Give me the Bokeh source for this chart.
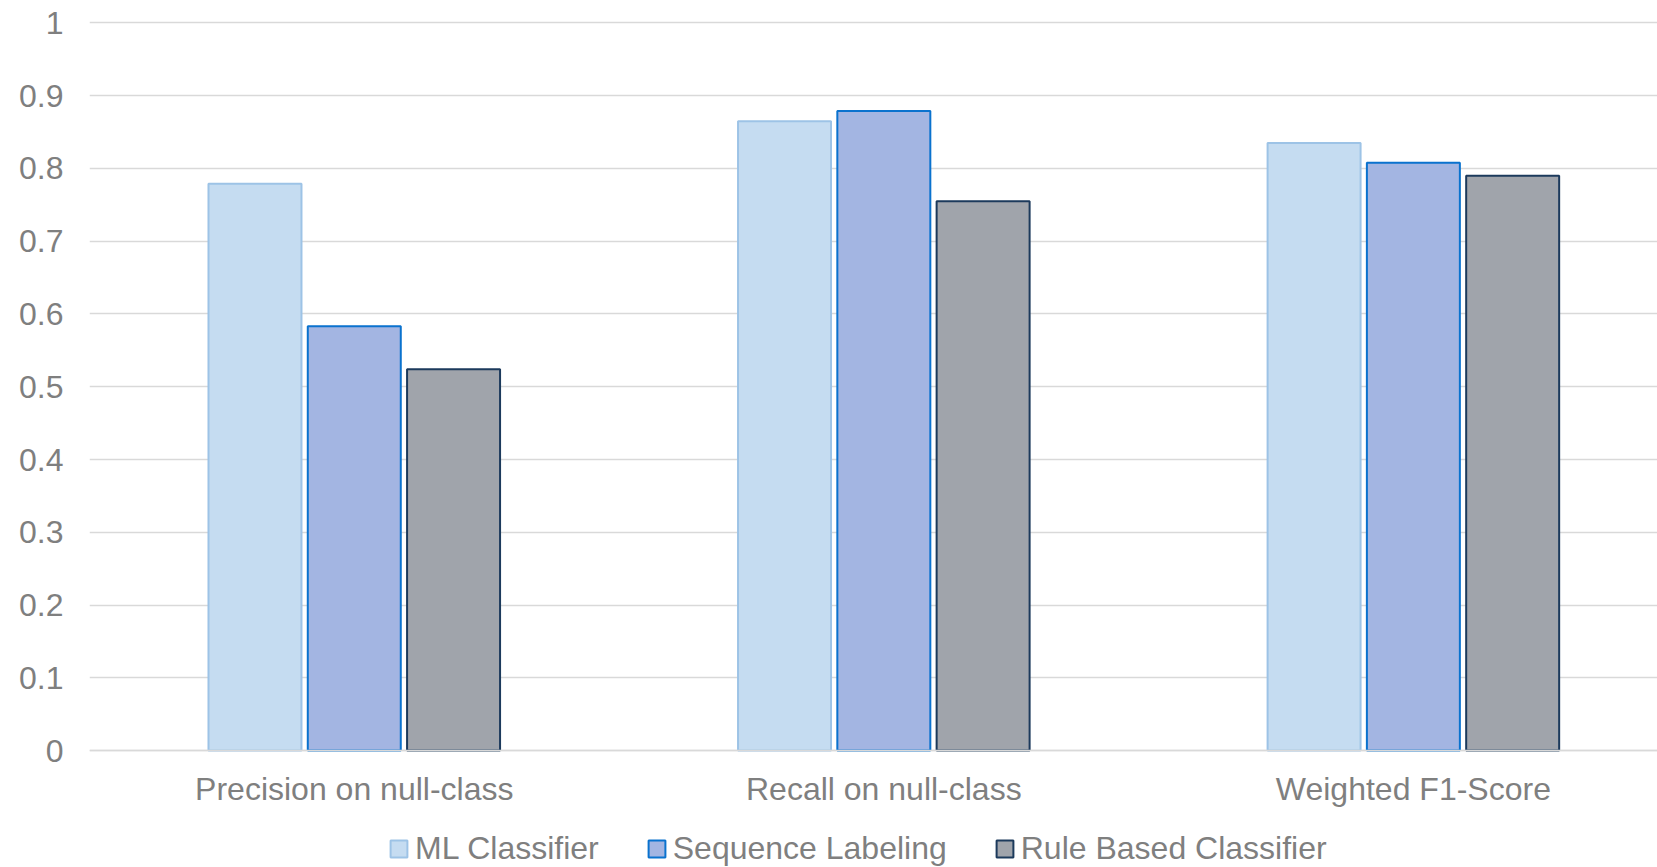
from bokeh.plotting import figure
from bokeh.models import ColumnDataSource, Range1d, FixedTicker, Legend, LegendItem, LinearAxis
from bokeh.transform import dodge
from bokeh.embed import file_html
from bokeh.resources import INLINE

categories = ["Precision on null-class", "Recall on null-class", "Weighted F1-Score"]
category_x = [0.5, 1.5, 2.5]
series_names = ["ML Classifier", "Sequence Labeling", "Rule Based Classifier"]
ml_classifier = [0.779, 0.865, 0.835]
sequence_labeling = [0.583, 0.879, 0.808]
rule_based = [0.524, 0.755, 0.790]
y_ticks = [0, 0.1, 0.2, 0.3, 0.4, 0.5, 0.6, 0.7, 0.8, 0.9, 1.0]
y_tick_labels = ["0", "0.1", "0.2", "0.3", "0.4", "0.5", "0.6", "0.7", "0.8", "0.9", "1"]

FONT = "Liberation Sans"
TXT = "#7F7F7F"
FS = "32px"

source = ColumnDataSource(data=dict(x=category_x, ml=ml_classifier, seq=sequence_labeling, rule=rule_based))

p = figure(width=1657, height=867, x_range=Range1d(0, 2.961), y_range=Range1d(-0.16082, 1.01443),
           output_backend="svg", toolbar_location=None, x_axis_location=None,
           min_border_left=89, min_border_top=12, min_border_right=0, min_border_bottom=0)
p.outline_line_color = None
p.background_fill_color = "white"
p.border_fill_color = "white"

styles = [
    ("ml", -0.1875, "#C5DCF1", "#9DC3E6"),
    ("seq", 0.0, "#A3B5E2", "#0A72CE"),
    ("rule", 0.1875, "#A0A4AB", "#1C3A5C"),
]
renderers = []
for col, off, fill, line in styles:
    r = p.vbar(x=dodge("x", off, range=p.x_range), top=col, width=0.1756, bottom=0, source=source,
               fill_color=fill, line_color=line, line_width=2)
    renderers.append(r)

p.xgrid.grid_line_color = None
p.ygrid.grid_line_color = "#D9D9D9"
p.ygrid.grid_line_width = 1.5
p.ygrid.ticker = FixedTicker(ticks=y_ticks)

p.yaxis.ticker = FixedTicker(ticks=y_ticks)
p.yaxis.major_label_overrides = {t: l for t, l in zip(y_ticks, y_tick_labels)}
p.yaxis.axis_line_color = None
p.yaxis.major_tick_line_color = None
p.yaxis.minor_tick_line_color = None
p.yaxis.major_label_standoff = 20
p.yaxis.major_label_text_font = FONT
p.yaxis.major_label_text_font_size = FS
p.yaxis.major_label_text_color = TXT

xaxis = LinearAxis(fixed_location=0, ticker=FixedTicker(ticks=category_x),
                   major_label_overrides={x: c for x, c in zip(category_x, categories)},
                   axis_line_color="#D9D9D9", axis_line_width=1.5,
                   major_tick_line_color=None, minor_tick_line_color=None,
                   major_label_standoff=14, major_label_text_font=FONT,
                   major_label_text_font_size=FS, major_label_text_color=TXT)
p.add_layout(xaxis, "below")

legend = Legend(items=[LegendItem(label=n, renderers=[r]) for n, r in zip(series_names, renderers)],
                orientation="horizontal", location=(299, 0),
                glyph_width=21, glyph_height=21, label_standoff=6, spacing=47,
                padding=0, margin=0, border_line_color=None, background_fill_alpha=0,
                label_text_font=FONT, label_text_font_size=FS, label_text_color=TXT)
p.add_layout(legend, "center")

open("out.html", "w").write(file_html(p, INLINE))
